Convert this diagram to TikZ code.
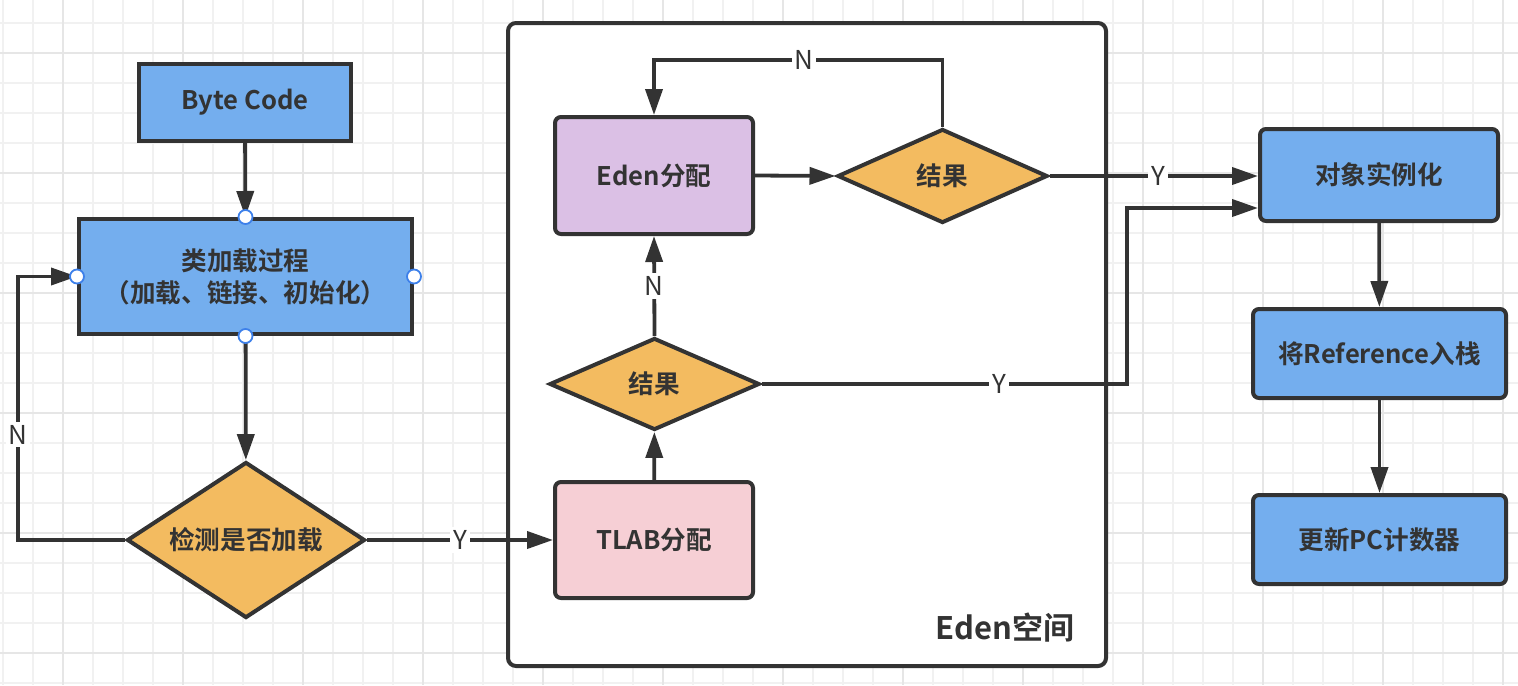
\documentclass[tikz,border=0pt]{standalone}
\usepackage{fontspec}
\setmainfont{Noto Sans CJK SC}[BoldFont={Noto Sans CJK SC Bold}]
\usetikzlibrary{arrows.meta,shapes.geometric}
\definecolor{lc}{HTML}{333333}
\definecolor{bluef}{HTML}{74AEEE}
\definecolor{orangef}{HTML}{F3BB60}
\definecolor{purplef}{HTML}{DBC0E5}
\definecolor{pinkf}{HTML}{F6CFD5}
\definecolor{gridminor}{HTML}{F1F1F1}
\definecolor{gridmajor}{HTML}{E6E6E6}
\definecolor{handle}{HTML}{3D80EA}
\begin{document}
\begin{tikzpicture}[x=0.5pt,y=-0.5pt,
  txt/.style={font=\bfseries\fontsize{12.8}{16}\selectfont, text=lc, align=center},
  sqbox/.style={txt, draw=lc, line width=2pt, fill=bluef, inner sep=0pt},
  rbox/.style={txt, draw=lc, line width=2pt, rounded corners=3pt, inner sep=0pt},
  dia/.style={txt, shape=diamond, aspect=1.5, draw=lc, line width=2pt, fill=orangef, inner sep=0pt},
  arr/.style={draw=lc, line width=1.9pt, -{Triangle[length=13pt,width=8.5pt]}},
  lbl/.style={fill=white, text=lc, font=\fontsize{13}{15}\selectfont, inner sep=1.5pt},
  hdl/.style={circle, draw=handle, fill=white, line width=0.9pt, minimum size=7pt, inner sep=0pt}
]
\useasboundingbox (0,0) rectangle (1518,685);
% grid
\foreach \x in {3,33,...,1518} \draw[gridminor, line width=1pt] (\x,0) -- (\x,685);
\foreach \y in {23,53,...,685} \draw[gridminor, line width=1pt] (0,\y) -- (1518,\y);
\foreach \x in {63,183,...,1518} \draw[gridmajor, line width=1.2pt] (\x,0) -- (\x,685);
\foreach \y in {53,173,...,685} \draw[gridmajor, line width=1.2pt] (0,\y) -- (1518,\y);

% Eden container
\node[draw=lc, line width=2pt, fill=white, rounded corners=4pt, minimum width=299pt, minimum height=321.5pt, inner sep=0pt] (edenbox) at (807,344.5) {};
\node[txt, font=\bfseries\fontsize{15.5}{18}\selectfont] (edenlbl) at (1005,628) {Eden空间};

% left column
\node[sqbox, minimum width=106pt, minimum height=38.5pt] (bc) at (245,102.5) {Byte Code};
\node[sqbox, minimum width=166.5pt, minimum height=57.5pt] (load) at (245.5,276.5) {类加载过程\\（加载、链接、初始化）};
\node[dia, minimum width=119pt, minimum height=78pt] (check) at (246,540) {检测是否加载};

% Eden column
\node[rbox, fill=purplef, minimum width=99pt, minimum height=58.5pt] (eden) at (654,175.5) {Eden分配};
\node[rbox, fill=pinkf, minimum width=99pt, minimum height=58pt] (tlab) at (654,540) {TLAB分配};
\node[dia, minimum width=105pt, minimum height=47pt] (res1) at (942.5,176) {结果};
\node[dia, minimum width=105pt, minimum height=46pt] (res2) at (654.5,384) {结果};

% right column
\node[rbox, fill=bluef, minimum width=119pt, minimum height=46pt] (obj) at (1379,175) {对象实例化};
\node[rbox, fill=bluef, minimum width=126.5pt, minimum height=44.5pt] (ref) at (1379.5,353.5) {将Reference入栈};
\node[rbox, fill=bluef, minimum width=126.5pt, minimum height=44.5pt] (pc) at (1379.5,539.5) {更新PC计数器};

% connectors
\draw[arr] (bc) -- (load);
\draw[arr] (load) -- (check);
\coordinate (nl) at (18,540);
\draw[arr] (check.west) -- (nl) |- node[lbl, pos=0.2] {N} (load.west);
\draw[arr] (check.east) -- node[lbl] {Y} (tlab.west);

\draw[arr] (eden.east) -- (res1.west);
\coordinate (ntop) at (942.5,60);
\draw[arr] (res1.north) -- (ntop) -| node[lbl, pos=0.24] {N} (eden.north);
\draw[arr] (res1.east) -- node[lbl, pos=0.52] {Y} (res1.east -| obj.west);
\draw[arr] (tlab) -- (res2);
\draw[arr] (res2.north) -- node[lbl] {N} (eden.south);
\coordinate (yb) at (1127,208);
\draw[arr] (res2.east) -- node[lbl, pos=0.65] {Y} (res2.east -| yb) -- (yb) -- (yb -| obj.west);

\draw[arr] (obj) -- (ref);
\draw[arr] (ref) -- (pc);

% selection handles
\node[hdl] (h1) at (load.north) {};
\node[hdl] (h2) at (load.south) {};
\node[hdl] (h3) at (load.west) {};
\node[hdl] (h4) at (load.east) {};
\end{tikzpicture}
\end{document}
